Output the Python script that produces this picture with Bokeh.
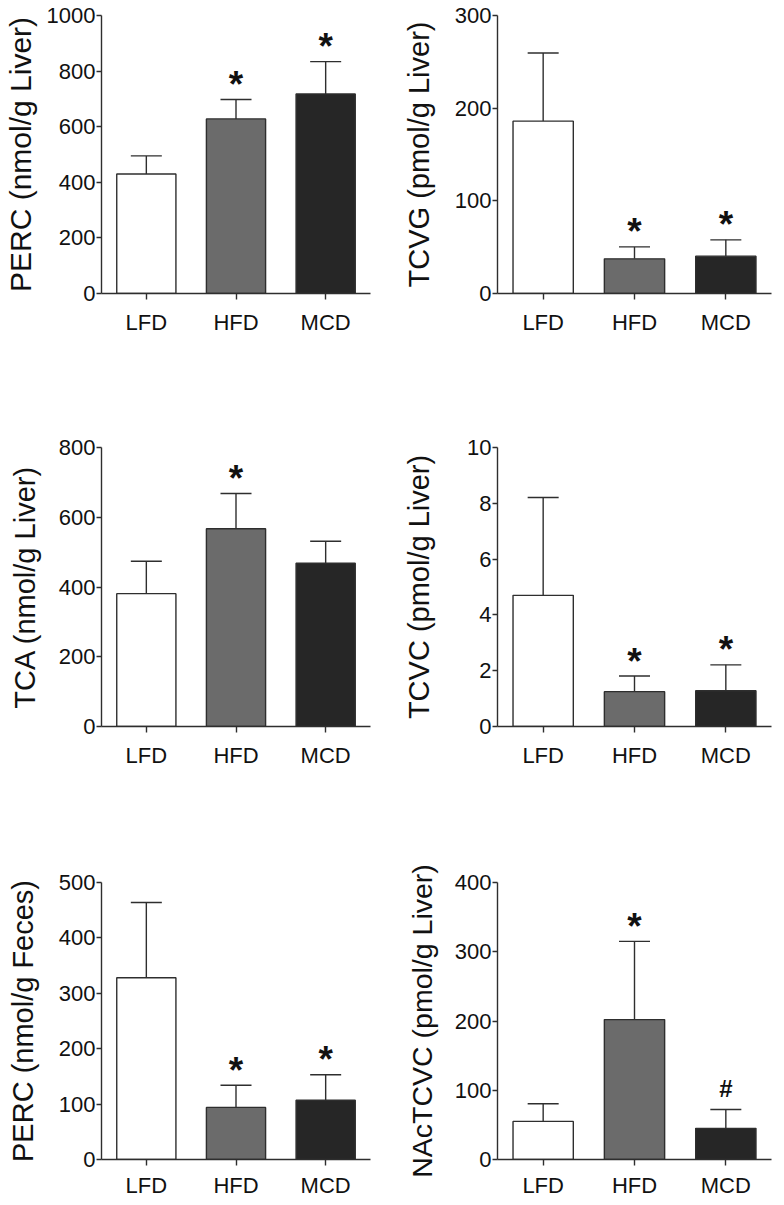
from bokeh.plotting import figure
from bokeh.models import ColumnDataSource, Range1d, FixedTicker, Whisker, TeeHead
from bokeh.layouts import gridplot
from bokeh.core.properties import value
from bokeh.embed import file_html
from bokeh.resources import INLINE

# ---------------- data ----------------
groups = ["LFD", "HFD", "MCD"]
bar_colors = ["#ffffff", "#6b6b6b", "#262626"]

perc_liver_mean = [430, 628, 718]
perc_liver_upper = [495, 698, 834]
perc_liver_marks = ["", "*", "*"]

tcvg_mean = [186, 37.4, 40.3]
tcvg_upper = [259.5, 50.3, 57.9]
tcvg_marks = ["", "*", "*"]

tca_mean = [381, 567, 468]
tca_upper = [474, 668, 531]
tca_marks = ["", "*", ""]

tcvc_mean = [4.70, 1.25, 1.28]
tcvc_upper = [8.21, 1.81, 2.21]
tcvc_marks = ["", "*", "*"]

perc_feces_mean = [328, 94, 107]
perc_feces_upper = [464, 134, 153]
perc_feces_marks = ["", "*", "*"]

nactcvc_mean = [55, 202, 45]
nactcvc_upper = [80.5, 315, 72.3]
nactcvc_marks = ["", "*", "#"]

labels = ["PERC (nmol/g Liver)", "TCVG (pmol/g Liver)",
          "TCA (nmol/g Liver)", "TCVC (pmol/g Liver)",
          "PERC (nmol/g Feces)", "NAcTCVC (pmol/g Liver)"]
y_max = [1000, 300, 800, 10, 500, 400]
y_step = [200, 100, 200, 2, 100, 100]

FONT = "Liberation Sans"
LINE = "#2e2e2e"

# per-row layout: (height, border top, border bottom, x label standoff)
ROWS = [(432, 15, 139, 10), (428, 15, 134, 10), (340, 22, 41, 7)]
# per-column layout: (width, border left, border right)
COLS = [(394, 94, 24), (382, 103, 5)]


def panel(label, means, upper, marks, ymax, step, col, row, standoff, label_size):
    width, mbl, mbr = COLS[col]
    height, mbt, mbb, xstand = ROWS[row]

    p = figure(x_range=groups, y_range=Range1d(0, ymax),
               width=width, height=height,
               min_border_left=mbl, min_border_right=mbr,
               min_border_top=mbt, min_border_bottom=mbb,
               output_backend="svg", toolbar_location=None, tools="")
    p.x_range.range_padding = 0
    src = ColumnDataSource(dict(g=groups, m=means, u=upper, c=bar_colors))
    p.vbar(x="g", top="m", width=0.66, fill_color="c", line_color=LINE,
           line_width=1.4, source=src)
    w = Whisker(base="g", lower="m", upper="u", source=src,
                line_color=LINE, line_width=1.4,
                upper_head=TeeHead(size=31, line_color=LINE, line_width=1.4),
                lower_head=None)
    p.add_layout(w)

    stars = ColumnDataSource(dict(
        g=[g for g, k in zip(groups, marks) if k == "*"],
        u=[u for u, k in zip(upper, marks) if k == "*"],
        t=[k for k in marks if k == "*"]))
    hashes = ColumnDataSource(dict(
        g=[g for g, k in zip(groups, marks) if k == "#"],
        u=[u for u, k in zip(upper, marks) if k == "#"],
        t=[k for k in marks if k == "#"]))
    p.text(x="g", y="u", text="t", source=stars, text_align="center",
           text_baseline="middle", y_offset=-15,
           text_font=value(FONT), text_font_style="bold",
           text_font_size="37px", text_color="#111111")
    p.text(x="g", y="u", text="t", source=hashes, text_align="center",
           text_baseline="middle", y_offset=-21,
           text_font=value(FONT), text_font_style="bold",
           text_font_size="24px", text_color="#111111")

    p.xgrid.grid_line_color = None
    p.ygrid.grid_line_color = None
    p.outline_line_color = None
    p.background_fill_color = "white"
    p.border_fill_color = "white"

    p.yaxis.ticker = FixedTicker(ticks=list(range(0, ymax + 1, step)))
    p.yaxis.axis_label = label
    p.yaxis.axis_label_text_font = FONT
    p.yaxis.axis_label_text_font_size = label_size
    p.yaxis.axis_label_text_font_style = "normal"
    p.yaxis.axis_label_text_color = "#111111"
    p.yaxis.axis_label_standoff = standoff
    p.yaxis.major_tick_out = 5
    p.yaxis.major_tick_in = 0
    p.yaxis.major_label_standoff = 1
    p.yaxis.minor_tick_line_color = None

    p.xaxis.major_tick_out = 6
    p.xaxis.major_tick_in = 0
    p.xaxis.major_label_standoff = xstand

    for ax in (p.xaxis, p.yaxis):
        ax.axis_line_color = LINE
        ax.axis_line_width = 1.4
        ax.major_tick_line_color = LINE
        ax.major_tick_line_width = 1.4
        ax.major_label_text_font = FONT
        ax.major_label_text_font_size = "22px"
        ax.major_label_text_color = "#111111"
    return p


p1 = panel(labels[0], perc_liver_mean, perc_liver_upper, perc_liver_marks, y_max[0], y_step[0], 0, 0, 7, "30px")
p2 = panel(labels[1], tcvg_mean, tcvg_upper, tcvg_marks, y_max[1], y_step[1], 1, 0, 17, "29px")
p3 = panel(labels[2], tca_mean, tca_upper, tca_marks, y_max[2], y_step[2], 0, 1, 15, "29px")
p4 = panel(labels[3], tcvc_mean, tcvc_upper, tcvc_marks, y_max[3], y_step[3], 1, 1, 29, "29px")
p5 = panel(labels[4], perc_feces_mean, perc_feces_upper, perc_feces_marks, y_max[4], y_step[4], 0, 2, 17, "29px")
p6 = panel(labels[5], nactcvc_mean, nactcvc_upper, nactcvc_marks, y_max[5], y_step[5], 1, 2, 14, "28.5px")

grid = gridplot([[p1, p2], [p3, p4], [p5, p6]], toolbar_location=None)

open("out.html", "w").write(file_html(grid, INLINE))
